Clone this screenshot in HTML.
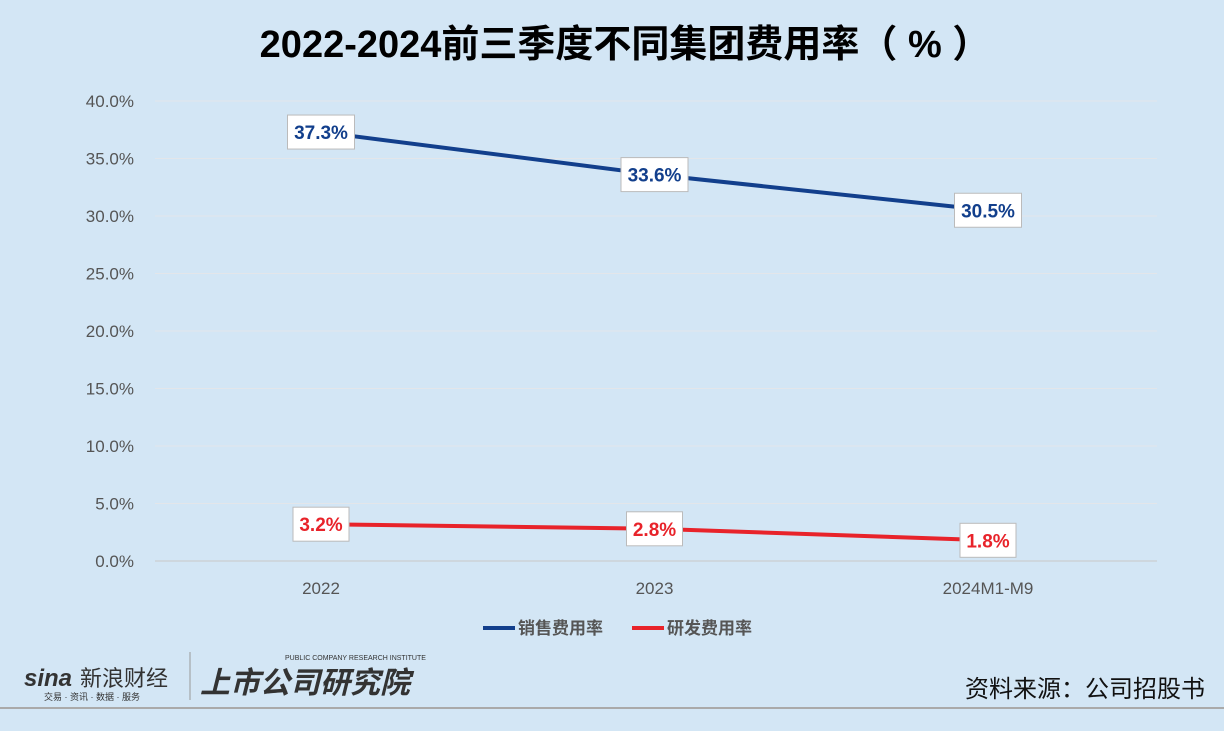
<!DOCTYPE html>
<html><head><meta charset="utf-8"><style>
body{margin:0;width:1224px;height:731px;background:#d3e6f5;overflow:hidden;font-family:"Liberation Sans","Noto Sans CJK SC",sans-serif;position:relative}
.t{position:absolute}
</style></head><body>
<div class="t" style="left:0;width:1250px;top:13px;text-align:center;font-size:38px;font-weight:bold;color:#000">2022-2024前三季度不同集团费用率（ % ）</div>
<svg class="t" style="left:0;top:0" width="1224" height="731">
<g id="grid"></g><g id="marks"></g>
<line x1="0" y1="708" x2="1224" y2="708" stroke="#aaa" stroke-width="2"/>
<g font-size="17" font-weight="bold" fill="#555">
<line x1="483" y1="628" x2="515" y2="628" stroke="#123f8c" stroke-width="4"/>
<text x="518" y="634">销售费用率</text>
<line x1="632" y1="628" x2="664" y2="628" stroke="#e8232a" stroke-width="4"/>
<text x="667" y="634">研发费用率</text>
</g>
<g fill="#333">
<text x="24" y="686" font-size="24" font-weight="bold" font-style="italic">sina</text>
<text x="80" y="686" font-size="22">新浪财经</text>
<text x="44" y="700" font-size="9">交易 · 资讯 · 数据 · 服务</text>
<line x1="190" y1="652" x2="190" y2="700" stroke="#999"/>
<text x="200" y="693" font-size="30" font-weight="bold" font-style="italic">上市公司研究院</text>
<text x="285" y="660" font-size="7">PUBLIC COMPANY RESEARCH INSTITUTE</text>
</g>
<text x="1205" y="697" text-anchor="end" font-size="24" fill="#111">资料来源：公司招股书</text>
</svg>
<script>
const categories=["2022","2023","2024M1-M9"];
const sales=[37.3,33.6,30.5];
const rd=[3.2,2.8,1.8];
const ticks=[0,5,10,15,20,25,30,35,40];
const X=i=>321+i*333.5, Y=v=>561-v*11.5;
const ns="http://www.w3.org/2000/svg";
function mk(p,tag,a){const e=document.createElementNS(ns,tag);for(const k in a)e.setAttribute(k,a[k]);p.appendChild(e);return e;}
const g=document.getElementById('grid'),m=document.getElementById('marks');
ticks.forEach(t=>{
 const l=mk(g,'line',{x1:155,x2:1157,y1:Y(t),y2:Y(t),stroke:t===0?'#c8c8c8':'#e3e6ea','stroke-width':1});
 
 
 const tx=mk(g,'text',{x:134,y:Y(t)+6,'text-anchor':'end','font-size':17,fill:'#555'});
 tx.textContent=t.toFixed(1)+'%';
 
 
});
categories.forEach((c,i)=>{
 const tx=mk(g,'text',{x:X(i),y:594,'text-anchor':'middle','font-size':17,fill:'#555'});
 tx.textContent=c;
 
 
});
[[sales,'#123f8c','sales'],[rd,'#e8232a','rd']].forEach(([d,col,n])=>{
 const p=mk(m,'polyline',{points:d.map((v,i)=>X(i)+','+Y(v)).join(' '),fill:'none',stroke:col,'stroke-width':4});
 
 
 d.forEach((v,i)=>{
  const s=v.toFixed(1)+'%';const w=s.length*11+12;
  const r=mk(m,'rect',{x:X(i)-w/2,y:Y(v)-17,width:w,height:34,fill:'#fff',stroke:'#bbb'});
  
  
  const t=mk(m,'text',{x:X(i),y:Y(v)+7,'text-anchor':'middle','font-size':19,'font-weight':'bold',fill:col});
  t.textContent=s;
  
  
 });
});
</script>
</body></html>
